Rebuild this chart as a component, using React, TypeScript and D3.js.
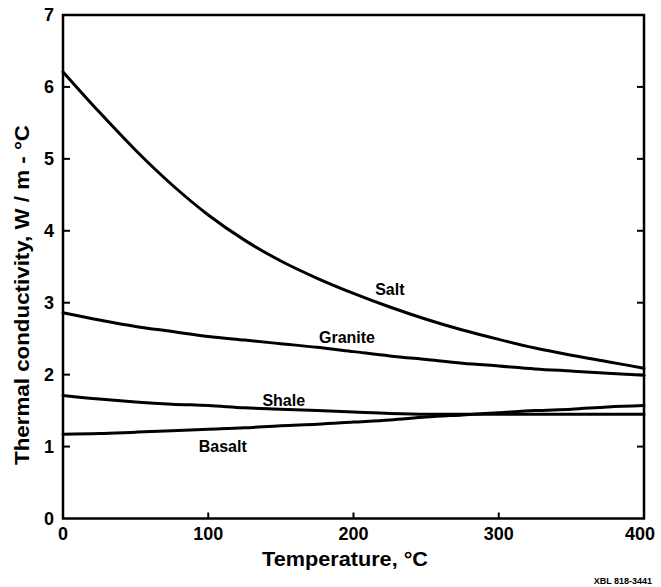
import React from "react";
import * as d3 from "d3";

const temps = [0, 25, 50, 75, 100, 125, 150, 175, 200, 225, 250, 275, 300, 325, 350, 375, 400];
const salt = [6.21, 5.65, 5.12, 4.64, 4.22, 3.87, 3.58, 3.34, 3.13, 2.94, 2.77, 2.62, 2.49, 2.37, 2.27, 2.18, 2.09];
const granite = [2.86, 2.76, 2.67, 2.6, 2.53, 2.48, 2.43, 2.38, 2.32, 2.26, 2.21, 2.16, 2.12, 2.08, 2.05, 2.02, 1.99];
const shale = [1.71, 1.66, 1.62, 1.59, 1.57, 1.54, 1.52, 1.5, 1.48, 1.46, 1.45, 1.45, 1.45, 1.45, 1.45, 1.45, 1.45];
const basalt = [1.17, 1.18, 1.2, 1.22, 1.24, 1.26, 1.29, 1.31, 1.34, 1.37, 1.41, 1.44, 1.47, 1.5, 1.52, 1.55, 1.57];

const xTicks = [0, 100, 200, 300, 400];
const yTicks = [0, 1, 2, 3, 4, 5, 6, 7];

const seriesNames = ["Salt", "Granite", "Shale", "Basalt"];
const seriesValues = [salt, granite, shale, basalt];
// label anchor: [temperature, value] at label centre / baseline
const labelPos: [number, number][] = [
  [225, 3.11],
  [195.5, 2.44],
  [152, 1.56],
  [110, 0.92],
];

const W = 661;
const H = 587;
const left = 63;
const right = 644;
const top = 15;
const bottom = 518.5;

export default function App() {
  const x = d3.scaleLinear().domain([0, 400]).range([left, right]);
  const y = d3.scaleLinear().domain([0, 7]).range([bottom, top]);
  const line = d3
    .line<[number, number]>()
    .x((d) => x(d[0]))
    .y((d) => y(d[1]))
    .curve(d3.curveMonotoneX);

  const font = "'Liberation Sans', Arial, sans-serif";

  return (
    <svg
      width={W}
      height={H}
      style={{ position: "absolute", left: 0, top: 0, background: "#fff" }}
    >
      <rect x={0} y={0} width={W} height={H} fill="#fff" />
      {seriesValues.map((vals, i) => (
        <path
          key={seriesNames[i]}
          d={line(temps.map((t, j) => [t, vals[j]] as [number, number])) || ""}
          fill="none"
          stroke="#000"
          strokeWidth={3}
          strokeLinecap="round"
        />
      ))}
      <rect
        x={left}
        y={top}
        width={right - left}
        height={bottom - top}
        fill="none"
        stroke="#000"
        strokeWidth={2.5}
      />
      {yTicks.slice(1, -1).map((t) => (
        <g key={"yt" + t}>
          <line x1={left} x2={left + 7} y1={y(t)} y2={y(t)} stroke="#000" strokeWidth={2} />
          <line x1={right} x2={right - 7} y1={y(t)} y2={y(t)} stroke="#000" strokeWidth={2} />
        </g>
      ))}
      {xTicks.slice(1, -1).map((t) => (
        <line key={"xt" + t} x1={x(t)} x2={x(t)} y1={bottom} y2={bottom - 6} stroke="#000" strokeWidth={2} />
      ))}
      {yTicks.map((t) => (
        <text
          key={"yl" + t}
          x={54}
          y={y(t) + 6}
          textAnchor="end"
          fontFamily={font}
          fontWeight="bold"
          fontSize={18}
          fill="#000"
        >
          {t}
        </text>
      ))}
      {xTicks.map((t) => (
        <text
          key={"xl" + t}
          x={x(t) - (t === 400 ? 4 : 0)}
          y={540}
          textAnchor="middle"
          fontFamily={font}
          fontWeight="bold"
          fontSize={18}
          fill="#000"
        >
          {t}
        </text>
      ))}
      {seriesNames.map((n, i) => (
        <text
          key={"sl" + n}
          x={x(labelPos[i][0])}
          y={y(labelPos[i][1])}
          textAnchor="middle"
          fontFamily={font}
          fontWeight="bold"
          fontSize={16}
          fill="#000"
        >
          {n}
        </text>
      ))}
      <text
        x={345}
        y={566}
        textAnchor="middle"
        fontFamily={font}
        fontWeight="bold"
        fontSize={20}
        textLength={166}
        lengthAdjust="spacingAndGlyphs"
        fill="#000"
      >
        Temperature, °C
      </text>
      <text
        transform={`translate(29, ${295}) rotate(-90)`}
        textAnchor="middle"
        fontFamily={font}
        fontWeight="bold"
        fontSize={20}
        textLength={340}
        lengthAdjust="spacingAndGlyphs"
        fill="#000"
      >
        Thermal conductivity, W / m - °C
      </text>
      <text
        x={652}
        y={584}
        textAnchor="end"
        fontFamily={font}
        fontWeight="bold"
        fontSize={9}
        fill="#000"
      >
        XBL 818-3441
      </text>
    </svg>
  );
}
